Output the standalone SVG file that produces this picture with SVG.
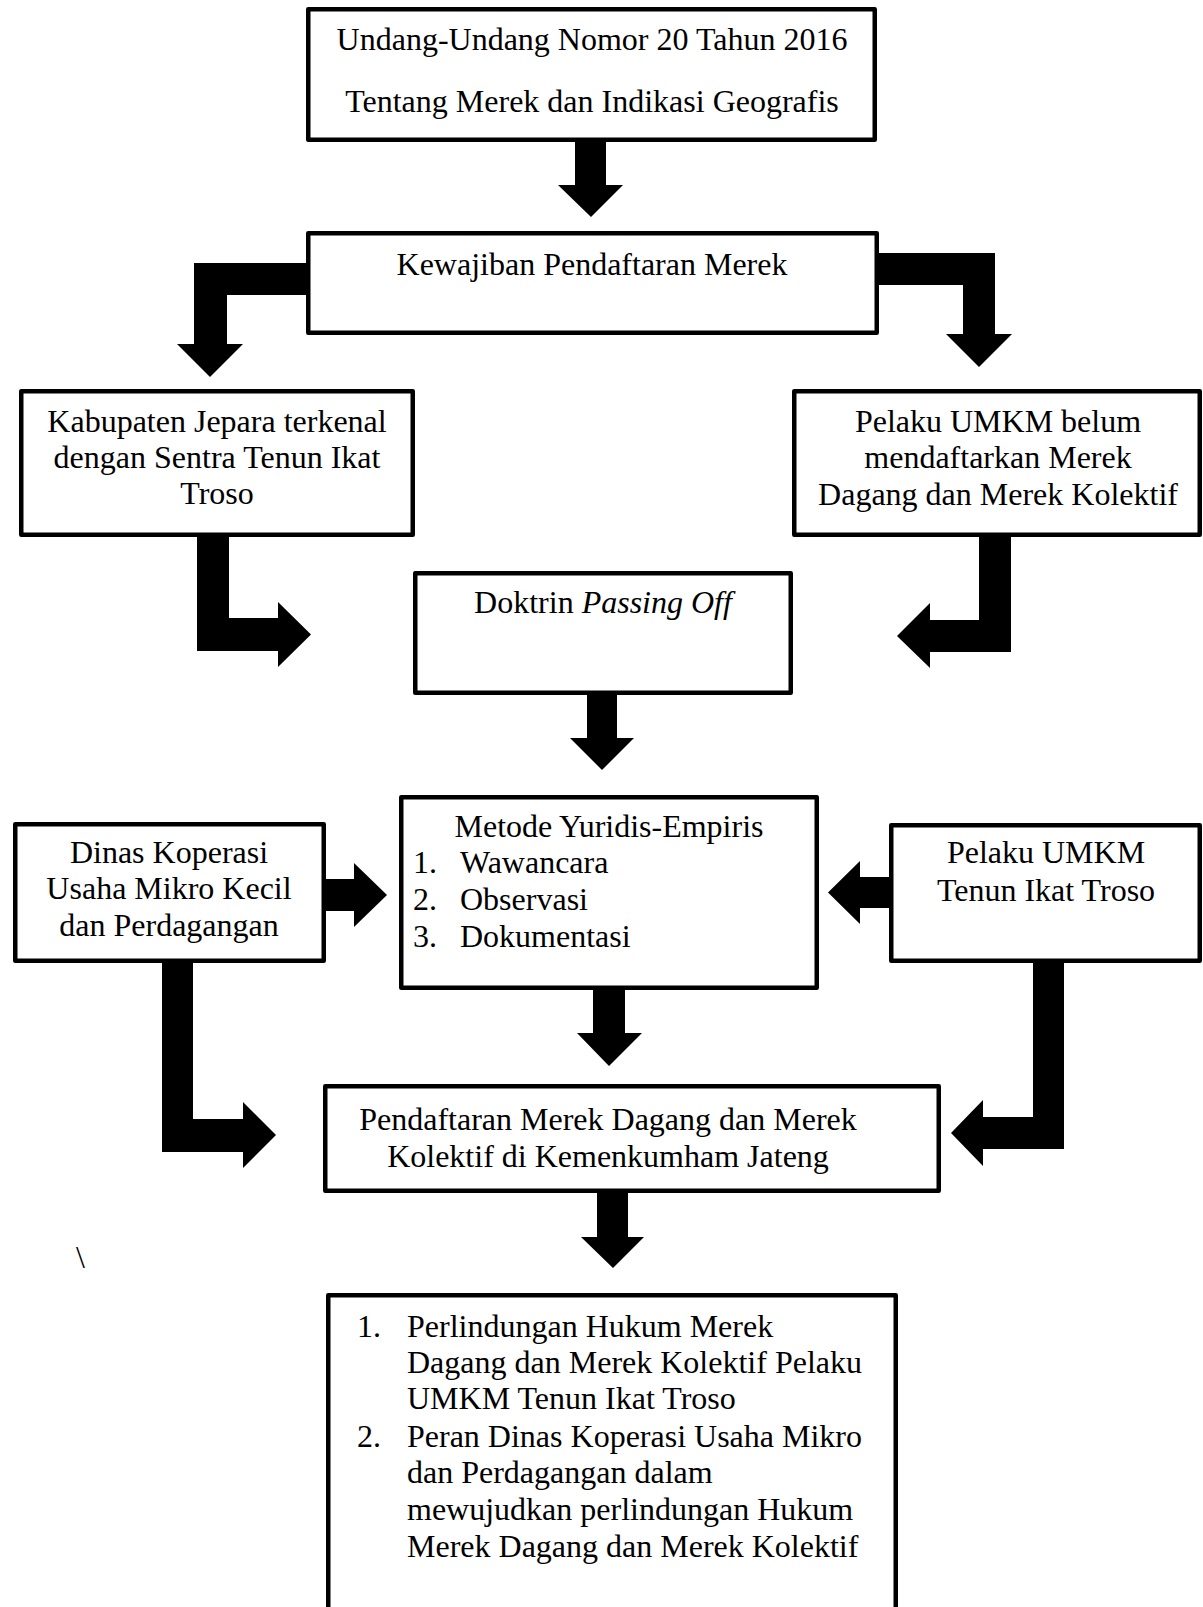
<svg xmlns="http://www.w3.org/2000/svg" width="1203" height="1607" viewBox="0 0 1203 1607">
<style>
.box{fill:#fff;stroke:#000;stroke-width:4.5;stroke-linejoin:round}
.arr{fill:#000;stroke:none}
text{font-family:"Liberation Serif","Times New Roman",serif;font-size:32px;fill:#000}
.c{text-anchor:middle}
</style>
<rect width="1203" height="1607" fill="#fff"/>
<g id="connectors">
<polygon class="arr" points="575,135 606,135 606,185 623,185 591,217 558,185 575,185"/>
<polygon class="arr" points="312,263 194,263 194,344 177,344 210,377 243,344 227,344 227,295 312,295"/>
<polygon class="arr" points="873,253 995,253 995,334 1012,334 979,367 946,334 963,334 963,285 873,285"/>
<polygon class="arr" points="197,532 229,532 229,618 278,618 278,602 311,634.5 278,667 278,651 197,651"/>
<polygon class="arr" points="1011,532 979,532 979,620 930,620 930,603 897,636 930,668 930,652 1011,652"/>
<polygon class="arr" points="587,690 617,690 617,738 634,738 602,770 570,738 587,738"/>
<polygon class="arr" points="320,879 354,879 354,863 387,895 354,927 354,911 320,911"/>
<polygon class="arr" points="895,877 860,877 860,861 828,892.5 860,924 860,908 895,908"/>
<polygon class="arr" points="593,984 625,984 625,1033 642,1033 609,1066 577,1033 593,1033"/>
<polygon class="arr" points="162,958 193,958 193,1119 243,1119 243,1102 276,1135 243,1168 243,1152 162,1152"/>
<polygon class="arr" points="1064,958 1033,958 1033,1117 983,1117 983,1100 951,1133 983,1166 983,1149 1064,1149"/>
<polygon class="arr" points="597,1188 628,1188 628,1237 644,1237 613,1268 581,1237 597,1237"/>
</g>
<g id="node-uu">
<rect class="box" x="308.25" y="9.25" width="566.5" height="130.5"/>
<text class="c" x="592" y="50">Undang-Undang Nomor 20 Tahun 2016</text>
<text class="c" x="592" y="112">Tentang Merek dan Indikasi Geografis</text>
</g>
<g id="node-kewajiban">
<rect class="box" x="308.25" y="233.25" width="568.5" height="99.5"/>
<text class="c" x="592" y="275">Kewajiban Pendaftaran Merek</text>
</g>
<g id="node-kabupaten">
<rect class="box" x="21.25" y="391.25" width="391.5" height="143.5"/>
<text class="c" x="217" y="432">Kabupaten Jepara terkenal</text>
<text class="c" x="217" y="468">dengan Sentra Tenun Ikat</text>
<text class="c" x="217" y="504">Troso</text>
</g>
<g id="node-pelaku-belum">
<rect class="box" x="794.25" y="391.25" width="405.5" height="143.5"/>
<text class="c" x="998" y="432">Pelaku UMKM belum</text>
<text class="c" x="998" y="468">mendaftarkan Merek</text>
<text class="c" x="998" y="505">Dagang dan Merek Kolektif</text>
</g>
<g id="node-doktrin">
<rect class="box" x="415.25" y="573.25" width="375.5" height="119.5"/>
<text class="c" x="603" y="613">Doktrin <tspan font-style="italic">Passing Off</tspan></text>
</g>
<g id="node-dinas">
<rect class="box" x="15.25" y="824.25" width="308.5" height="136.5"/>
<text class="c" x="169" y="863">Dinas Koperasi</text>
<text class="c" x="169" y="899">Usaha Mikro Kecil</text>
<text class="c" x="169" y="936">dan Perdagangan</text>
</g>
<g id="node-metode">
<rect class="box" x="401.25" y="797.25" width="415.5" height="190.5"/>
<text class="c" x="609" y="837">Metode Yuridis-Empiris</text>
<text x="413" y="873">1.</text><text x="460" y="873">Wawancara</text>
<text x="413" y="910">2.</text><text x="460" y="910">Observasi</text>
<text x="413" y="947">3.</text><text x="460" y="947">Dokumentasi</text>
</g>
<g id="node-pelaku-tenun">
<rect class="box" x="891.25" y="825.25" width="308.5" height="135.5"/>
<text class="c" x="1046" y="863">Pelaku UMKM</text>
<text class="c" x="1046" y="901">Tenun Ikat Troso</text>
</g>
<g id="node-pendaftaran">
<rect class="box" x="325.25" y="1086.25" width="613.5" height="104.5"/>
<text class="c" x="608" y="1130">Pendaftaran Merek Dagang dan Merek</text>
<text class="c" x="608" y="1167">Kolektif di Kemenkumham Jateng</text>
</g>
<text x="76" y="1268">\</text>
<g id="node-hasil">
<rect class="box" x="328.25" y="1295.25" width="567.5" height="340"/>
<text x="357" y="1337">1.</text><text x="407" y="1337">Perlindungan Hukum Merek</text>
<text x="407" y="1373">Dagang dan Merek Kolektif Pelaku</text>
<text x="407" y="1409">UMKM Tenun Ikat Troso</text>
<text x="357" y="1447">2.</text><text x="407" y="1447">Peran Dinas Koperasi Usaha Mikro</text>
<text x="407" y="1483">dan Perdagangan dalam</text>
<text x="407" y="1520">mewujudkan perlindungan Hukum</text>
<text x="407" y="1557">Merek Dagang dan Merek Kolektif</text>
</g>
</svg>
